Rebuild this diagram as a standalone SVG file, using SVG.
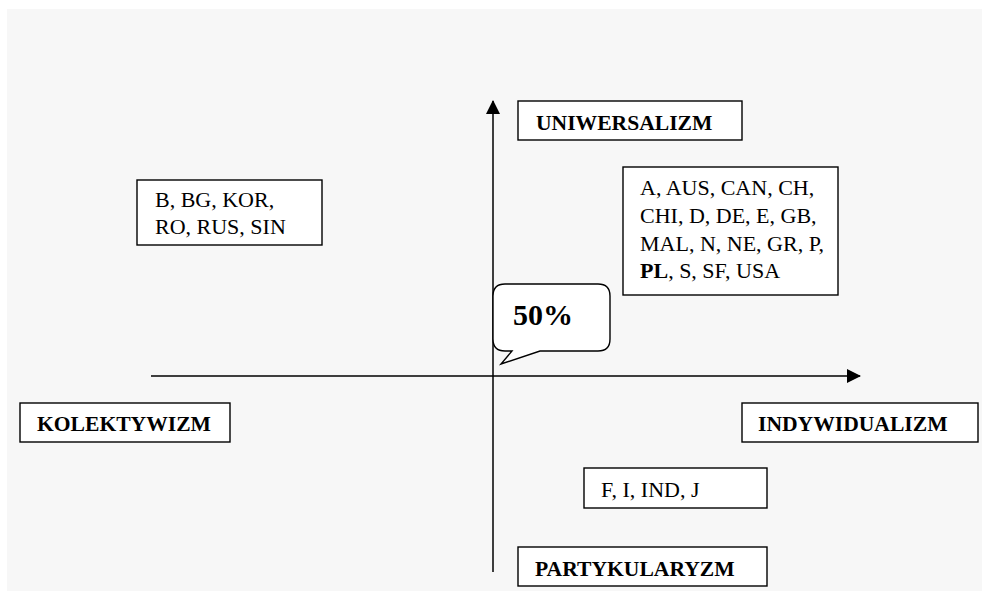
<svg xmlns="http://www.w3.org/2000/svg" width="982" height="592" viewBox="0 0 982 592">
<defs>
<style>
.box{fill:#fff;stroke:#000;stroke-width:1.4}
.lbl{font-family:"Liberation Serif","Times New Roman",serif;font-size:21.6px;font-weight:bold;fill:#000}
.big{font-family:"Liberation Serif","Times New Roman",serif;font-size:30px;font-weight:bold;fill:#000}
.txt{font-family:"Liberation Serif","Times New Roman",serif;font-size:22px;fill:#000}
.axis{stroke:#000;stroke-width:1.5;fill:none}
</style>
<marker id="arr" viewBox="0 0 14 14" refX="13" refY="7" markerWidth="14" markerHeight="14" markerUnits="userSpaceOnUse" orient="auto">
<path d="M0,0 L14,7 L0,14 Z" fill="#000"/>
</marker>
</defs>
<rect x="0" y="0" width="982" height="592" fill="#fff"/>
<rect x="7" y="9" width="975" height="582" fill="#f7f7f7"/>
<g id="connectors">
<line class="axis" x1="151" y1="376" x2="860" y2="376" marker-end="url(#arr)"/>
<line class="axis" x1="493" y1="572" x2="493" y2="101" marker-end="url(#arr)"/>
</g>
<g id="uniwersalizm">
<rect class="box" x="518" y="101" width="224" height="39"/>
<text class="lbl" x="536" y="130">UNIWERSALIZM</text>
</g>
<g id="kolektywizm">
<rect class="box" x="20" y="403" width="210" height="39"/>
<text class="lbl" x="37" y="431">KOLEKTYWIZM</text>
</g>
<g id="indywidualizm">
<rect class="box" x="742" y="403" width="236" height="39"/>
<text class="lbl" x="758" y="431">INDYWIDUALIZM</text>
</g>
<g id="partykularyzm">
<rect class="box" x="518" y="547" width="249" height="39"/>
<text class="lbl" x="535" y="576">PARTYKULARYZM</text>
</g>
<g id="group-b">
<rect class="box" x="137" y="180" width="185" height="65"/>
<text class="txt" x="155" y="207">B, BG, KOR,</text>
<text class="txt" x="155" y="234">RO, RUS, SIN</text>
</g>
<g id="group-a">
<rect class="box" x="623" y="167" width="215" height="128"/>
<text class="txt" x="640" y="195">A, AUS, CAN, CH,</text>
<text class="txt" x="640" y="223">CHI, D, DE, E, GB,</text>
<text class="txt" x="640" y="251">MAL, N, NE, GR, P,</text>
<text class="txt" x="640" y="278"><tspan font-weight="bold">PL</tspan>, S, SF, USA</text>
</g>
<g id="group-f">
<rect class="box" x="584" y="468" width="183" height="40"/>
<text class="txt" x="601" y="497">F, I, IND, J</text>
</g>
<g id="bubble">
<path d="M505,284 H598 Q610,284 610,296 V339 Q610,351 598,351 H540 L501,364 L512,351 H505 Q493,351 493,339 V296 Q493,284 505,284 Z" fill="#fff" stroke="#000" stroke-width="1.4"/>
<text class="big" x="513" y="325">50%</text>
</g>
</svg>
